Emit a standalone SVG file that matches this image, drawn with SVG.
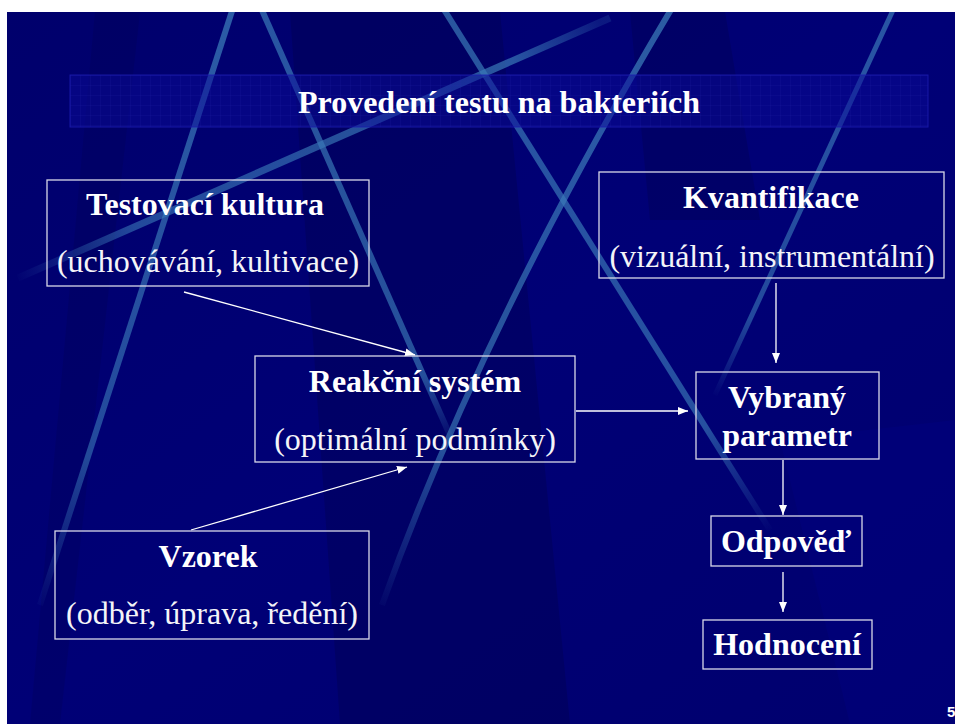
<svg xmlns="http://www.w3.org/2000/svg" width="955" height="724" viewBox="0 0 955 724">
<defs>
<style>
.box{fill:none;stroke:#d8d8e8;stroke-width:1.3}
.hd{font-family:"Liberation Serif","Times New Roman",serif;font-weight:bold;font-size:32px;fill:#ffffff;text-anchor:middle}
.rg{font-family:"Liberation Serif","Times New Roman",serif;font-size:32px;fill:#f4f4f8;text-anchor:middle}
.con{stroke:#ffffff;stroke-width:1.3;fill:none;marker-end:url(#ah)}
.beam{fill:none;stroke-linecap:butt}
</style>
<clipPath id="slide"><rect x="7" y="12" width="948" height="712"/></clipPath>
<marker id="ah" viewBox="0 0 10 10" refX="10" refY="5" markerWidth="10" markerHeight="10" markerUnits="userSpaceOnUse" orient="auto">
<path d="M0,1 L10,5 L0,9 Z" fill="#ffffff"/>
</marker>
<linearGradient id="bg" x1="0" y1="0" x2="1" y2="1">
<stop offset="0" stop-color="#00006c"/>
<stop offset="0.5" stop-color="#000076"/>
<stop offset="1" stop-color="#00006e"/>
</linearGradient>
<linearGradient id="g1" gradientUnits="userSpaceOnUse" x1="233" y1="12" x2="40" y2="605">
<stop offset="0" stop-color="#3a7ab8" stop-opacity="0.75"/>
<stop offset="0.75" stop-color="#3a7ab8" stop-opacity="0.6"/>
<stop offset="1" stop-color="#3a7ab8" stop-opacity="0.05"/>
</linearGradient>
<linearGradient id="g2" gradientUnits="userSpaceOnUse" x1="263" y1="12" x2="452" y2="440">
<stop offset="0" stop-color="#3a7ab8" stop-opacity="0.7"/>
<stop offset="0.85" stop-color="#3a7ab8" stop-opacity="0.65"/>
<stop offset="1" stop-color="#3a7ab8" stop-opacity="0.05"/>
</linearGradient>
<linearGradient id="g3" gradientUnits="userSpaceOnUse" x1="18" y1="278" x2="600" y2="22">
<stop offset="0" stop-color="#3a7ab8" stop-opacity="0.02"/>
<stop offset="0.2" stop-color="#3a7ab8" stop-opacity="0.6"/>
<stop offset="0.85" stop-color="#3a7ab8" stop-opacity="0.7"/>
<stop offset="1" stop-color="#3a7ab8" stop-opacity="0.2"/>
</linearGradient>
<linearGradient id="g4" gradientUnits="userSpaceOnUse" x1="670" y1="12" x2="382" y2="605">
<stop offset="0" stop-color="#3a7ab8" stop-opacity="0.75"/>
<stop offset="0.75" stop-color="#3a7ab8" stop-opacity="0.65"/>
<stop offset="1" stop-color="#3a7ab8" stop-opacity="0.05"/>
</linearGradient>
<linearGradient id="g5" gradientUnits="userSpaceOnUse" x1="445" y1="12" x2="770" y2="530">
<stop offset="0" stop-color="#3a7ab8" stop-opacity="0.7"/>
<stop offset="0.8" stop-color="#3a7ab8" stop-opacity="0.65"/>
<stop offset="1" stop-color="#3a7ab8" stop-opacity="0.02"/>
</linearGradient>
<linearGradient id="g6" gradientUnits="userSpaceOnUse" x1="892" y1="12" x2="715" y2="395">
<stop offset="0" stop-color="#3a7ab8" stop-opacity="0.7"/>
<stop offset="0.8" stop-color="#3a7ab8" stop-opacity="0.6"/>
<stop offset="1" stop-color="#3a7ab8" stop-opacity="0.02"/>
</linearGradient>
<pattern id="grid" width="10" height="10" patternUnits="userSpaceOnUse" x="70" y="75">
<path d="M0,0 H10 M0,0 V10" stroke="#2a2ab0" stroke-width="0.8" fill="none" opacity="0.6"/>
</pattern>
</defs>

<rect x="0" y="0" width="955" height="724" fill="#ffffff"/>
<g id="background" clip-path="url(#slide)">
<rect x="7" y="12" width="948" height="712" fill="url(#bg)"/>
<polygon points="290,12 500,12 570,724 340,724" fill="#000040" opacity="0.28"/>
<polygon points="630,12 725,12 760,220 650,220" fill="#000040" opacity="0.25"/>
<polygon points="95,12 140,12 60,724 30,724" fill="#000040" opacity="0.18"/>
<polygon points="780,440 955,420 955,724 850,724" fill="#000088" opacity="0.3"/>
<path class="beam" d="M233,8 L40,605" stroke="url(#g1)" stroke-width="6"/>
<path class="beam" d="M261,8 L452,440" stroke="url(#g2)" stroke-width="6"/>
<path class="beam" d="M18,278 L610,18" stroke="url(#g3)" stroke-width="7"/>
<path class="beam" d="M672,8 Q480,330 382,605" stroke="url(#g4)" stroke-width="6"/>
<path class="beam" d="M443,8 L770,530" stroke="url(#g5)" stroke-width="6"/>
<path class="beam" d="M894,8 L715,395" stroke="url(#g6)" stroke-width="5"/>
</g>

<g id="title">
<rect x="70" y="75" width="858" height="52" fill="#0a0a98" opacity="0.5"/>
<rect x="70" y="75" width="858" height="52" fill="url(#grid)" opacity="0.55"/>
<rect x="70" y="75" width="858" height="52" fill="none" stroke="#1c1cb0" stroke-width="1" opacity="0.8"/>
<text class="hd" x="499" y="113">Provedení testu na bakteriích</text>
</g>

<g id="connectors">
<path class="con" d="M184,292 L415,355"/>
<path class="con" d="M191,530 L407,467"/>
<path class="con" d="M576,411 L688,411"/>
<path class="con" d="M776,283 L776,363"/>
<path class="con" d="M783,460 L783,515"/>
<path class="con" d="M783,572 L783,612"/>
</g>

<g id="node-testovaci">
<rect class="box" x="47" y="180" width="322" height="106"/>
<text class="hd" x="205" y="215">Testovací kultura</text>
<text class="rg" x="208" y="272">(uchovávání, kultivace)</text>
</g>

<g id="node-kvantifikace">
<rect class="box" x="599" y="172" width="345" height="106"/>
<text class="hd" x="771" y="208">Kvantifikace</text>
<text class="rg" x="772" y="267">(vizuální, instrumentální)</text>
</g>

<g id="node-reakcni">
<rect class="box" x="255" y="356" width="320" height="106"/>
<text class="hd" x="415" y="392">Reakční systém</text>
<text class="rg" x="415" y="450">(optimální podmínky)</text>
</g>

<g id="node-vybrany">
<rect class="box" x="696" y="372" width="183" height="87"/>
<text class="hd" x="787" y="408">Vybraný</text>
<text class="hd" x="787" y="446">parametr</text>
</g>

<g id="node-vzorek">
<rect class="box" x="55" y="531" width="314" height="108"/>
<text class="hd" x="208" y="567">Vzorek</text>
<text class="rg" x="212" y="624">(odběr, úprava, ředění)</text>
</g>

<g id="node-odpoved">
<rect class="box" x="711" y="516" width="151" height="50"/>
<text class="hd" x="786" y="552">Odpověď</text>
</g>

<g id="node-hodnoceni">
<rect class="box" x="703" y="620" width="169" height="49"/>
<text class="hd" x="787" y="655">Hodnocení</text>
</g>

<text x="947" y="717" font-family="Liberation Sans, Arial, sans-serif" font-weight="bold" font-size="15" fill="#ffffff">5</text>
</svg>
